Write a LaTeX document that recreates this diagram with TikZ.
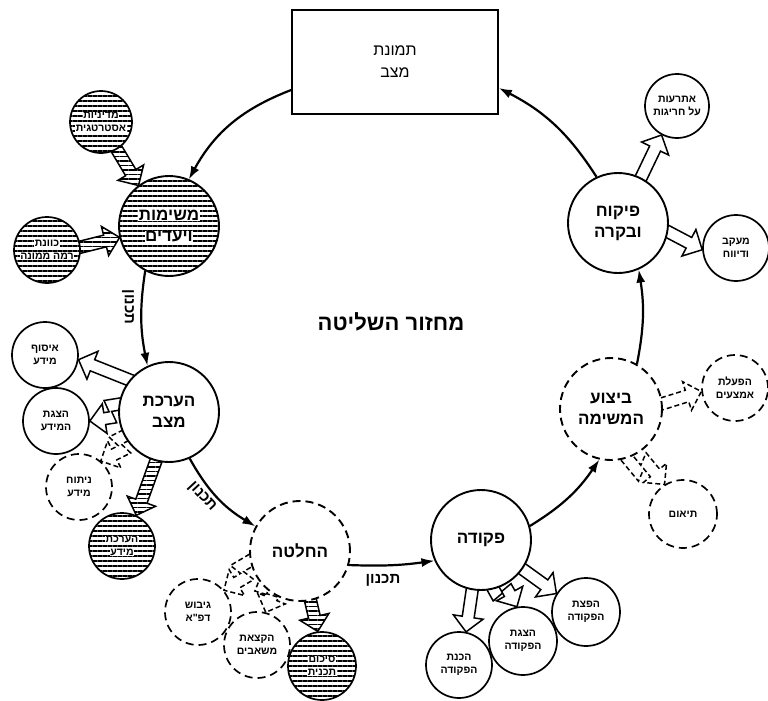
\documentclass[tikz,border=0pt]{standalone}
\usepackage{fontspec}
\setmainfont{Liberation Sans}
\newfontfamily\heb[Script=Hebrew,BoldFont={Liberation Sans Bold}]{Liberation Sans}
\TeXXeTstate=1
\usetikzlibrary{arrows.meta,patterns.meta,calc}
\pgfdeclarelayer{back}
\pgfdeclarelayer{bg}
\pgfsetlayers{back,bg,main}
\newcommand\RL[1]{\beginR#1\endR}
\newcommand\WB[1]{{\setlength{\fboxsep}{0.6pt}\colorbox{white}{\beginR#1\endR}}}
\newcommand\setdir[2]{\path let \p1=(#1), \p2=(#2) in \pgfextra{%
  \pgfmathsetmacro\tmpL{veclen(\x2-\x1,\y2-\y1)}%
  \pgfmathsetmacro\tmpux{(\x2-\x1)/\tmpL}%
  \pgfmathsetmacro\tmpuy{(\y2-\y1)/\tmpL}%
  \pgfmathsetmacro\tmpax{\x1}\pgfmathsetmacro\tmpay{\y1}%
  \xdef\gL{\tmpL}\xdef\gux{\tmpux}\xdef\guy{\tmpuy}\xdef\gax{\tmpax}\xdef\gay{\tmpay}};}
\newcommand\lp[2]{({\gax+(#1)*(\gux)-(#2)*(\guy)},{\gay+(#1)*(\guy)+(#2)*(\gux)})}
\newcommand\sarrow[3][]{\setdir{#2}{#3}%
  \pgfmathsetmacro\zs{\gL-15}%
  \edef\zzpath{\noexpand\draw[barr,#1] \lp{-8}{6} -- \lp{\zs}{6} -- \lp{\zs}{15} -- \lp{\gL}{0} -- \lp{\zs}{-15} -- \lp{\zs}{-6} -- \lp{-8}{-6} -- cycle;}\zzpath}
\newcommand\zarrow[3][]{\setdir{#2}{#3}%
  \pgfmathsetmacro\zs{\gL-15}%
  \pgfmathsetmacro\zm{0.3*\zs}\pgfmathsetmacro\zg{0.12*\zs}\pgfmathsetmacro\zn{0.18*\zs}%
  \edef\zzpath{\noexpand\draw[barr,#1] \lp{-8}{-6} -- \lp{\zm+\zg}{-6} -- \lp{\zm-\zg}{6} -- \lp{\zs}{6} -- \lp{\zs}{15} -- \lp{\gL}{0} -- \lp{\zs}{-15} -- \lp{\zs}{-6} -- \lp{\zm+\zg+\zn}{-6} -- \lp{\zm+3*\zg+\zn}{-18} -- \lp{-8}{-18} -- cycle;}\zzpath}
\tikzset{
 main/.style={circle,draw,line width=1.9pt,minimum size=100pt,inner sep=0pt,align=center,fill=white,font=\heb\bfseries\fontsize{17}{21}\selectfont},
 small/.style={circle,draw,line width=1.7pt,minimum size=66pt,inner sep=0pt,align=center,fill=white,font=\heb\bfseries\fontsize{10.5}{13}\selectfont},
 dcirc/.style={dash pattern=on 8pt off 5pt},
 hcirc/.style={preaction={fill=white},pattern={Lines[angle=0,distance=5pt,line width=1.4pt]}},
 barr/.style={draw,line width=1.5pt,fill=white,line join=miter},
 hatch/.style={preaction={fill=white},pattern={Lines[angle=0,distance=4.5pt,line width=1.3pt]}},
 darr/.style={dash pattern=on 5pt off 3pt},
 cyc/.style={line width=2.2pt,-{Latex[length=13pt,width=9pt]}},
 cyclab/.style={font=\heb\bfseries\fontsize{15}{17}\selectfont,inner sep=1pt},
}
\begin{document}
\begin{tikzpicture}[x=1pt,y=1pt]
\begin{pgfonlayer}{back}
\fill[white] (0,0) rectangle (768,-701);
\end{pgfonlayer}
\useasboundingbox (0,0) rectangle (768,-701);
% main cycle
\node[draw,line width=1.7pt,minimum width=206pt,minimum height=104pt,inner sep=0pt,align=center,font=\heb\fontsize{16}{22}\selectfont] (rect) at (395,-62) {\RL{תמונת}\\\RL{מצב}};
\node[main,hcirc] (mis) at (169,-226) {\WB{משימות}\\\WB{ויעדים}};
\node[main] (herk) at (169,-412) {\RL{הערכת}\\\RL{מצב}};
\node[main,dcirc] (hahl) at (300,-551) {\RL{החלטה}};
\node[main] (pkd) at (481,-540) {\RL{פקודה}};
\node[main,dcirc,minimum size=102pt] (bits) at (611,-409) {\RL{ביצוע}\\\RL{המשימה}};
\node[main] (pik) at (618,-223) {\RL{פיקוח}\\\RL{ובקרה}};
% satellites
\node[small,hcirc,minimum size=62pt] (mad) at (101,-122) {\WB{מדיניות}\\\WB{אסטרטגית}};
\node[small,hcirc] (kav) at (47,-250) {\WB{כוונת}\\\WB{רמה ממונה}};
\node[small] (isuf) at (45,-355) {\RL{איסוף}\\\RL{מידע}};
\node[small] (hatz) at (56,-421) {\RL{הצגת}\\\RL{המידע}};
\node[small,dcirc] (nit) at (79,-487) {\RL{ניתוח}\\\RL{מידע}};
\node[small,hcirc] (herm) at (122,-546) {\WB{הערכת}\\\WB{מידע}};
\node[small,dcirc] (gib) at (198,-612) {\RL{גיבוש}\\\RL{דפ"א}};
\node[small,dcirc] (hak) at (257,-645) {\RL{הקצאת}\\\RL{משאבים}};
\node[small,hcirc,minimum size=68pt] (sik) at (322,-666) {\WB{סיכום}\\\WB{תכנית}};
\node[small] (hach) at (459,-665) {\RL{הכנת}\\\RL{הפקודה}};
\node[small,minimum size=68pt] (hatzp) at (523,-641) {\RL{הצגת}\\\RL{הפקודה}};
\node[small,minimum size=68pt] (hafp) at (586,-612) {\RL{הפצת}\\\RL{הפקודה}};
\node[small,dcirc,minimum size=68pt] (taum) at (683,-514) {\RL{תיאום}};
\node[small,dcirc] (hafa) at (735,-388) {\RL{הפעלת}\\\RL{אמצעים}};
\node[small] (maak) at (736,-248) {\RL{מעקב}\\\RL{ודיווח}};
\node[small,minimum size=64pt] (atr) at (677,-106) {\RL{אתרעות}\\\RL{על חריגות}};
% labels
\node[font=\heb\bfseries\fontsize{22}{25}\selectfont] (title) at (391,-322) {\RL{מחזור השליטה}};
\node[cyclab,rotate=-90] (l1) at (128,-307) {\RL{תכנון}};
\node[cyclab,rotate=-47] (l2) at (202,-497) {\RL{תכנון}};
\node[cyclab] (l3) at (383,-580) {\RL{תכנון}};
\begin{pgfonlayer}{bg}
\draw[cyc] ([yshift=-28pt]rect.west) to[bend right=20] (mis.67);
\draw[cyc] (mis.-118) to[bend right=10] (herk.115);
\draw[cyc] (herk.-66) to[bend right=15] (hahl.151);
\draw[cyc] (hahl.-16) to[bend right=5] (pkd.204);
\draw[cyc] (pkd.16) to[bend right=12] (bits.-103);
\draw[cyc] (bits.60) to[bend right=10] (pik.-66);
\draw[cyc] (pik.115) to[bend right=15] ([yshift=-26pt]rect.east);
\sarrow[hatch]{mad.-60}{mis.127}
\sarrow[hatch]{kav.5}{mis.193}
\sarrow{herk.141}{isuf.-8}
\zarrow{herk.185}{hatz.0}
\zarrow[darr]{herk.222}{nit.50}
\sarrow[hatch]{herk.-105}{herm.65}
\zarrow[darr]{hahl.205}{gib.40}
\zarrow[darr]{hahl.238}{hak.75}
\sarrow[hatch]{hahl.-78}{sik.97}
\sarrow{pkd.-100}{hach.78}
\zarrow{pkd.-62}{hatzp.100}
\sarrow{pkd.-35}{hafp.148}
\zarrow[darr]{bits.-58}{taum.122}
\sarrow[darr]{bits.6}{hafa.186}
\sarrow{pik.-10}{maak.183}
\sarrow{pik.63}{atr.-118}
\end{pgfonlayer}
\end{tikzpicture}
\end{document}
